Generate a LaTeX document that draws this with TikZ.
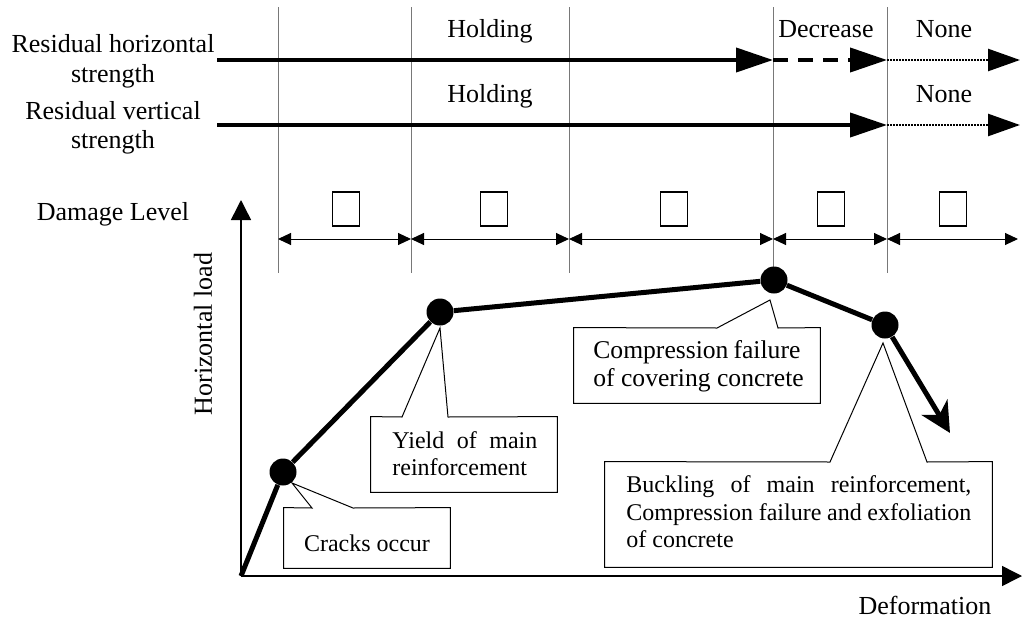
\documentclass[tikz,border=0pt]{standalone}
\usepackage{fontspec}
\setmainfont{Liberation Serif}
\usetikzlibrary{arrows.meta}
\definecolor{gridgray}{RGB}{120,120,120}
\newcommand\lblfont{\fontsize{13}{15}\selectfont}
\newcommand\notefont{\fontsize{12}{14}\selectfont}
\newcommand\notefontb{\fontsize{12.8}{14}\selectfont}

\begin{document}
\begin{tikzpicture}[x=0.5pt,y=-0.5pt,
  lbl/.style={font=\lblfont, inner sep=0pt},
  note/.style={font=\notefont, inner sep=0pt},
  noteb/.style={font=\notefontb, inner sep=0pt},
  stageline/.style={draw=gridgray, line width=0.5pt},
  strength/.style={line width=2pt, -{Triangle[length=18.5pt,width=12pt]}},
  decline/.style={line width=2pt, dash pattern=on 7.5pt off 5pt, -{Triangle[length=18.5pt,width=12pt]}},
  lost/.style={line width=1.3pt, dash pattern=on 1pt off 0.5pt, -{Triangle[length=16pt,width=11pt]}},
  spanarrow/.style={line width=0.5pt, {Triangle[length=6.5pt,width=6pt]}-{Triangle[length=6.5pt,width=6pt]}},
  lvbox/.style={draw, line width=0.8pt, minimum width=13.5pt, minimum height=17pt, inner sep=0pt},
  axisline/.style={line width=0.75pt, -{Triangle[length=10pt,width=10pt]}},
  loadcurve/.style={line width=2.5pt, line join=round},
  dot/.style={circle, fill=black, minimum size=13.5pt, inner sep=0pt},
  notebox/.style={fill=white, inner sep=0pt},
  noteline/.style={line width=0.5pt, line join=miter}]

\useasboundingbox (0,0) rectangle (1023,621);

% stage boundaries
\foreach \i/\x in {1/278,2/411,3/569,4/773,5/887}{
  \coordinate (gt\i) at (\x,7);
  \coordinate (gb\i) at (\x,273);
  \draw[stageline] (gt\i) -- (gb\i);
}

% residual strength rows
\node[lbl, anchor=base] (rh1) at (113,53) {Residual horizontal};
\node[lbl, anchor=base] (rh2) at (113,83) {strength};
\node[lbl, anchor=base] (rv1) at (113,119) {Residual vertical};
\node[lbl, anchor=base] (rv2) at (113,148) {strength};

\node[lbl, anchor=base] (hold1) at (490,37) {Holding};
\node[lbl, anchor=base] (hold2) at (490,102) {Holding};
\node[lbl, anchor=base] (decr) at (826,37) {Decrease};
\node[lbl, anchor=base] (none1) at (944,37) {None};
\node[lbl, anchor=base] (none2) at (944,102) {None};

\coordinate (hs) at (217,60);
\coordinate (ha) at (773,60);
\coordinate (hb) at (887,60);
\coordinate (he) at (1020,60);
\draw[strength] (hs) -- (ha);
\draw[decline] (ha) -- (hb);
\draw[lost] (hb) -- (he);

\coordinate (vs) at (217,125);
\coordinate (va) at (887,125);
\coordinate (ve) at (1020,125);
\draw[strength] (vs) -- (va);
\draw[lost] (va) -- (ve);

% damage levels
\node[lbl, anchor=base] (dl) at (113,220) {Damage Level};
\node[lvbox] (lv1) at (346,209) {};
\node[lvbox] (lv2) at (494,209) {};
\node[lvbox] (lv3) at (674,209) {};
\node[lvbox] (lv4) at (831,209) {};
\node[lvbox] (lv5) at (953,209) {};

\foreach \i/\x in {0/278,1/411,2/569,3/773,4/887,5/1018}
  \coordinate (r\i) at (\x,239);
\draw[spanarrow] (r0) -- (r1);
\draw[spanarrow] (r1) -- (r2);
\draw[spanarrow] (r2) -- (r3);
\draw[spanarrow] (r3) -- (r4);
\draw[spanarrow] (r4) -- (r5);

% axes
\coordinate (o) at (241,576);
\coordinate (ytop) at (241,200);
\coordinate (xend) at (1022,576);
\draw[axisline] (o) -- (ytop);
\draw[axisline] (o) -- (xend);
\node[lbl, rotate=90] (hload) at (203,334) {Horizontal load};
\node[lbl, anchor=base] (deform) at (925,614) {Deformation};

% load-deformation curve
\node[dot] (p1) at (283,472) {};
\node[dot] (p2) at (440,312) {};
\node[dot] (p3) at (774,280) {};
\node[dot] (p4) at (885,325) {};
\coordinate (cend) at (950,433);
\draw[loadcurve] (o) -- (p1);
\draw[loadcurve] (p1) -- (p2);
\draw[loadcurve] (p2) -- (p3);
\draw[loadcurve] (p3) -- (p4);
\draw[loadcurve, -{Stealth[length=15pt,width=15pt,inset=4.5pt]}] (p4) -- (cend);

% callout: cracks
\node[notebox, minimum width=83pt, minimum height=30pt] (cr) at (367,538) {};
\coordinate (cra) at (312,508);
\coordinate (crb) at (353,508);
\coordinate (crt) at (292,483);
\draw[noteline] (cr.north west) -- (cra) -- (crt) -- (crb) -- (cr.north east)
  -- (cr.south east) -- (cr.south west) -- cycle;
\node[note, anchor=base] (crx) at (367,551) {Cracks occur};

% callout: yield
\node[notebox, minimum width=93pt, minimum height=37.5pt] (yl) at (464,454.5) {};
\coordinate (yla) at (402,417);
\coordinate (ylb) at (448,417);
\coordinate (ylt) at (440,328);
\draw[noteline] (yl.north west) -- (yla) -- (ylt) -- (ylb) -- (yl.north east)
  -- (yl.south east) -- (yl.south west) -- cycle;
\node[note, anchor=base west] (ylx1) at (392,448) {\makebox[72.5pt][s]{Yield of main}};
\node[note, anchor=base west] (ylx2) at (392,475) {reinforcement};

% callout: cover concrete
\node[notebox, minimum width=123pt, minimum height=37.5pt] (cf) at (697,365.5) {};
\coordinate (cfa) at (717,328);
\coordinate (cfb) at (778,328);
\coordinate (cft) at (770,300);
\draw[noteline] (cf.north west) -- (cfa) -- (cft) -- (cfb) -- (cf.north east)
  -- (cf.south east) -- (cf.south west) -- cycle;
\node[noteb, anchor=base west] (cfx1) at (593,358) {\makebox[103.5pt][s]{Compression failure}};
\node[noteb, anchor=base west] (cfx2) at (593,386) {of covering concrete};

% callout: buckling
\node[notebox, minimum width=193.5pt, minimum height=52.5pt] (bk) at (798.5,514.5) {};
\coordinate (bka) at (830,462);
\coordinate (bkb) at (927,462);
\coordinate (bkt) at (883,343);
\draw[noteline] (bk.north west) -- (bka) -- (bkt) -- (bkb) -- (bk.north east)
  -- (bk.south east) -- (bk.south west) -- cycle;
\node[note, anchor=base west] (bkx1) at (626,492) {\makebox[172.5pt][s]{Buckling of main reinforcement,}};
\node[note, anchor=base west] (bkx2) at (626,520) {\makebox[172.5pt][s]{Compression failure and exfoliation}};
\node[note, anchor=base west] (bkx3) at (626,547) {of concrete};

\end{tikzpicture}
\end{document}
